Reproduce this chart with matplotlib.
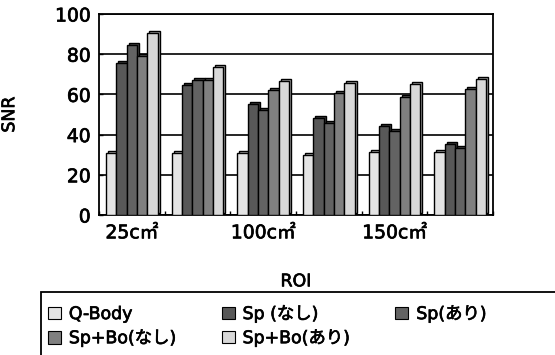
import matplotlib
matplotlib.use("Agg")
import matplotlib.pyplot as plt
import matplotlib.transforms as mtransforms
import matplotlib.patheffects as pe
from matplotlib.patches import Rectangle, Patch
import numpy as np

plt.rcParams['font.family'] = ['DejaVu Sans', 'Noto Sans CJK JP']

# ---- data ----
categories = ['25c㎡', '', '100c㎡', '', '150c㎡', '']
series_names = ['Q-Body', 'Sp (なし)', 'Sp(あり)', 'Sp+Bo(なし)', 'Sp+Bo(あり)']
q_body = [31, 31, 31, 30, 31.5, 31.5]
sp_nashi = [75.5, 64.5, 55, 48.5, 44.5, 35.5]
sp_ari = [84.5, 67, 52, 46, 42, 33.5]
spbo_nashi = [79, 67, 62, 60.5, 58.5, 62.5]
spbo_ari = [90.5, 73.5, 66.5, 65.5, 65, 67.5]
y_ticks = [0, 20, 40, 60, 80, 100]

series = [q_body, sp_nashi, sp_ari, spbo_nashi, spbo_ari]
colors = ['#e4e4e4', '#585858', '#636363', '#808080', '#d8d8d8']
side_colors = ['#a8a8a8', '#3a3a3a', '#444444', '#5a5a5a', '#a0a0a0']

heavy = [pe.withStroke(linewidth=0.5, foreground='black')]

fig = plt.figure(figsize=(5.55, 3.55), dpi=100)
ax = fig.add_axes([99/555, 1-215/355, 394/555, 201/355])

x = np.arange(len(categories))
w = 0.158
offset = mtransforms.ScaledTranslation(2/100, 2/100, fig.dpi_scale_trans)
handles = []
for i, (vals, c, sc) in enumerate(zip(series, colors, side_colors)):
    pos = x + (i - 2) * w
    # pseudo-3D depth
    back = ax.bar(pos, vals, width=w, color=sc, edgecolor='black', linewidth=1.0, zorder=2)
    for p in back:
        p.set_transform(ax.transData + offset)
    ax.bar(pos, vals, width=w, color=c, edgecolor='black', linewidth=1.0, zorder=3)
    handles.append(Patch(facecolor=c, edgecolor='black', linewidth=0.8))

ax.set_xlim(-0.5, len(categories) - 0.5)
ax.set_ylim(0, 100)
ax.set_yticks(y_ticks)
ax.set_xticks(x)
ax.set_xticklabels(categories)
ax.set_xticks(np.arange(-0.5, len(categories)), minor=True)
ax.tick_params(axis='x', which='major', length=0, pad=6, labelsize=13.5)
ax.tick_params(axis='x', which='minor', direction='in', length=3, width=1, color='black')
ax.tick_params(axis='y', direction='in', length=3, width=1, pad=6, labelsize=13.5)
ax.yaxis.grid(True, color='black', linewidth=1.2, zorder=0)
ax.set_axisbelow(True)
for s in ax.spines.values():
    s.set_linewidth(1.3)
    s.set_color('black')

ax.set_ylabel('SNR', fontsize=12.5)
ax.yaxis.set_label_coords(-0.205, 0.5)
ax.set_xlabel('ROI', fontsize=12.5, va='center')
ax.xaxis.set_label_coords(0.5, -0.33)

# legend frame (extends past figure edge as in the reference)
fig.add_artist(Rectangle((40.7/555, -0.2), 1.0, 0.2 + (355-291.5)/355,
                         transform=fig.transFigure, fill=False,
                         edgecolor='black', linewidth=1.3))
order = [0, 3, 1, 4, 2]
leg = fig.legend([handles[k] for k in order], [series_names[k] for k in order],
                 ncol=3, loc='upper left', bbox_to_anchor=(48/555, 1-305/355),
                 frameon=False, fontsize=12.5, borderaxespad=0, borderpad=0,
                 handlelength=0.75, handleheight=0.75, handletextpad=0.45,
                 columnspacing=2.6, labelspacing=0.35)

texts = (ax.get_xticklabels() + ax.get_yticklabels()
         + [ax.xaxis.label, ax.yaxis.label] + leg.get_texts())
for t in texts:
    t.set_path_effects(heavy)

fig.savefig('out.png', dpi=100)
